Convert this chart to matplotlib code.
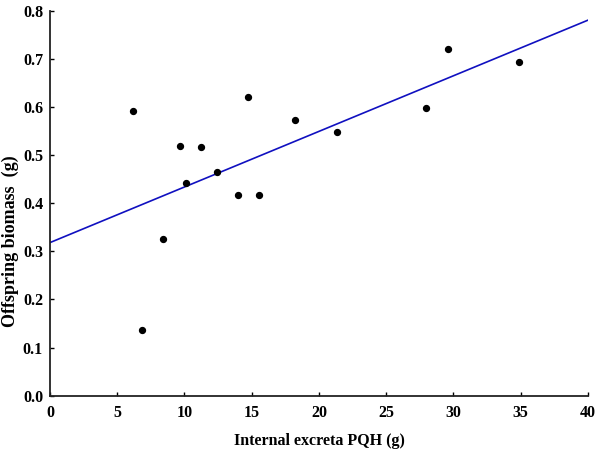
import matplotlib
matplotlib.use("Agg")
import matplotlib.pyplot as plt
import numpy as np

# data
excreta_g = [6.15, 6.82, 8.43, 9.70, 10.09, 11.25, 12.39, 13.95, 14.70, 15.51,
             18.19, 21.34, 27.96, 29.57, 34.90]
biomass_g = [0.592, 0.137, 0.325, 0.519, 0.441, 0.517, 0.465, 0.417, 0.621, 0.417,
             0.573, 0.548, 0.597, 0.721, 0.694]

# fitted line (intercept, slope)
fit_intercept = 0.318
fit_slope = 0.01155

x_ticks = [0, 5, 10, 15, 20, 25, 30, 35, 40]
y_ticks = [0.0, 0.1, 0.2, 0.3, 0.4, 0.5, 0.6, 0.7, 0.8]

plt.rcParams["font.family"] = ["Liberation Serif", "DejaVu Serif"]
plt.rcParams["font.weight"] = "bold"

fig = plt.figure(figsize=(6, 4.51), dpi=100)
ax = fig.add_axes([0.0833, 0.1226, 0.8967, 0.8541])

ax.scatter(excreta_g, biomass_g, s=18, color="black", zorder=3)
xs = np.array([0, 40])
ax.plot(xs, fit_intercept + fit_slope * xs, color="#1010c0", lw=1.2)

ax.set_xlim(0, 40)
ax.set_ylim(0, 0.8)
ax.set_xticks(x_ticks)
ax.set_yticks(y_ticks)
ax.set_yticklabels([f"{v:.1f}" for v in y_ticks])
ax.tick_params(direction="in", length=3, width=1, labelsize=11.5, colors="black")
ax.tick_params(axis="x", pad=7)
ax.tick_params(axis="y", pad=5)

for side in ("top", "right"):
    ax.spines[side].set_visible(False)
for side in ("left", "bottom"):
    ax.spines[side].set_linewidth(1.3)
    ax.spines[side].set_color("#222222")

ax.set_xlabel("Internal excreta PQH (g)", fontsize=11.5, fontweight="bold", labelpad=8)
ax.set_ylabel("Offspring biomass  (g)", fontsize=13, fontweight="bold")
ax.yaxis.set_label_coords(-0.057, 0.40)

fig.savefig("out.png", dpi=100)
